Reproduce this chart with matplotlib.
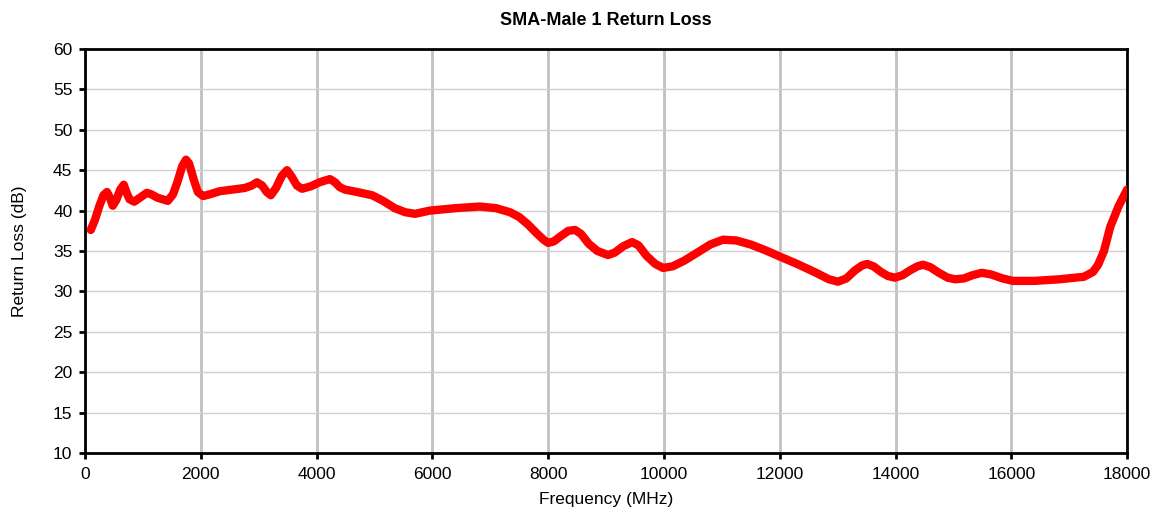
import matplotlib as mpl
mpl.use('Agg')
import matplotlib.pyplot as plt

plt.rcParams['font.family'] = ['Liberation Sans', 'DejaVu Sans']

# values
freq_mhz = [100, 170, 250, 320, 380, 430, 480, 540, 610, 670, 720, 770, 850, 950, 1070,
            1150, 1250, 1430, 1520, 1600, 1680, 1745, 1800, 1880, 1950, 2040, 2150,
            2330, 2550, 2760, 2880, 2970, 3060, 3140, 3210, 3300, 3400, 3490, 3570,
            3660, 3750, 3900, 4050, 4230, 4320, 4400, 4490, 4700, 4960, 5150, 5350,
            5530, 5700, 5960, 6400, 6820, 7100, 7340, 7500, 7650, 7800, 7920, 8000,
            8100, 8230, 8350, 8465, 8570, 8700, 8850, 9035, 9150, 9300, 9450, 9560,
            9700, 9850, 9985, 10150, 10350, 10600, 10800, 11020, 11250, 11500,
            11750, 12005, 12300, 12600, 12850, 13005, 13150, 13300, 13420, 13510,
            13620, 13750, 13870, 13990, 14120, 14250, 14380, 14475, 14600, 14750,
            14900, 15030, 15180, 15330, 15490, 15650, 15850, 16030, 16400, 16840,
            17100, 17250, 17410, 17500, 17600, 17710, 17850, 18000]
return_loss = [37.6, 38.8, 40.6, 41.9, 42.3, 41.6, 40.6, 41.3, 42.6, 43.2, 42.2, 41.4, 41.1,
               41.6, 42.2, 42.0, 41.6, 41.2, 42.0, 43.6, 45.5, 46.3, 45.8, 43.8, 42.3,
               41.8, 42.0, 42.4, 42.6, 42.8, 43.1, 43.5, 43.1, 42.3, 41.9, 42.8,
               44.3, 45.0, 44.2, 43.1, 42.7, 43.0, 43.5, 43.9, 43.5, 42.9, 42.6,
               42.3, 41.9, 41.2, 40.3, 39.8, 39.6, 40.0, 40.3, 40.5, 40.3, 39.8, 39.2,
               38.3, 37.2, 36.4, 36.0, 36.2, 36.9, 37.5, 37.6, 37.1, 35.9, 35.0,
               34.5, 34.8, 35.6, 36.1, 35.7, 34.4, 33.4, 32.9, 33.1, 33.8, 34.9,
               35.8, 36.4, 36.3, 35.8, 35.1, 34.3, 33.4, 32.4, 31.5, 31.2, 31.6,
               32.6, 33.2, 33.4, 33.1, 32.4, 31.9, 31.7, 32.0, 32.6, 33.1, 33.3,
               33.0, 32.3, 31.7, 31.5, 31.6, 32.0, 32.3, 32.1, 31.6, 31.3, 31.3,
               31.5, 31.7, 31.8, 32.4, 33.3, 35.0, 38.0, 40.5, 42.6]

x_ticks = list(range(0, 18001, 2000))
y_ticks = list(range(10, 61, 5))

fig = plt.figure(figsize=(11.56, 5.14), dpi=100)
ax = fig.add_axes([0.0735, 0.1187, 0.9015, 0.786])

ax.plot(freq_mhz, return_loss, color='#ff0000', linewidth=6,
        solid_joinstyle='round', solid_capstyle='round', zorder=3)

ax.set_xlim(0, 18000)
ax.set_ylim(10, 60)
ax.set_xticks(x_ticks)
ax.set_yticks(y_ticks)

# vertical grid heavier than horizontal, like the original
ax.xaxis.grid(True, color='#c0c0c0', linewidth=2)
ax.yaxis.grid(True, color='#d0d0d0', linewidth=1)
ax.set_axisbelow(True)

for s in ax.spines.values():
    s.set_color('black')
    s.set_linewidth(2)

ax.tick_params(axis='both', direction='out', length=4, width=2, labelsize=12.5)
ax.tick_params(axis='y', pad=5)
ax.tick_params(axis='x', pad=6)

ax.set_xlabel('Frequency (MHz)', fontsize=12.5, labelpad=7)
ax.set_ylabel('Return Loss (dB)', fontsize=12.5, labelpad=19)
ax.set_title('SMA-Male 1 Return Loss', fontsize=13, fontweight='bold', pad=17)

fig.savefig('out.png', dpi=100)
